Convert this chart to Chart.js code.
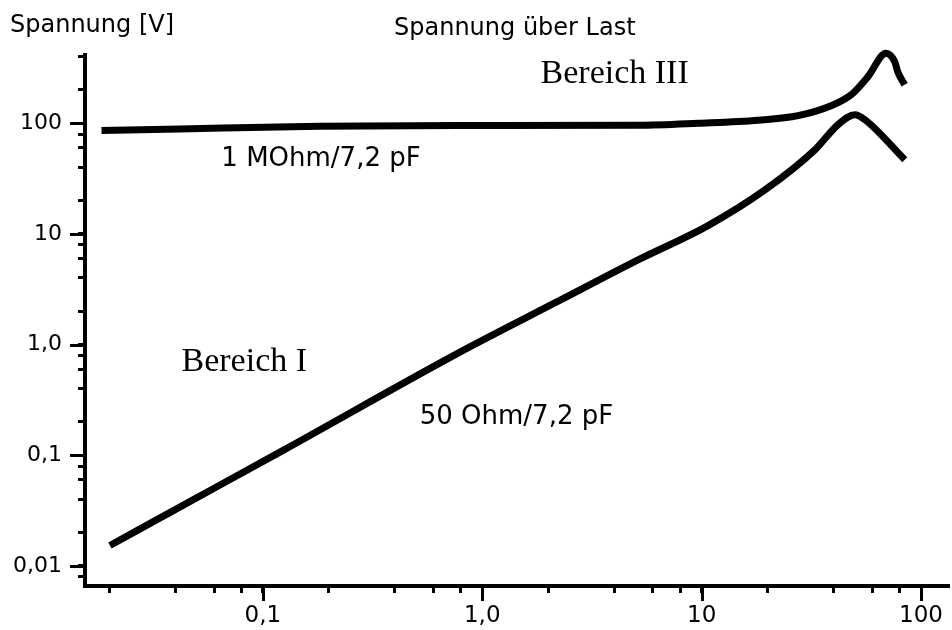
<!DOCTYPE html>
<html><head><meta charset="utf-8">
<script src="https://cdn.jsdelivr.net/npm/chart.js@4.4.1/dist/chart.umd.min.js"></script>
<style>html,body{margin:0;padding:0;background:#fff}canvas{display:block}</style>
</head><body>
<canvas id="c" width="952" height="630"></canvas>
<script>
// ---- data ----
const seriesNames = ['1 MOhm/7,2 pF', '50 Ohm/7,2 pF'];
const freqMOhm = [0.0184, 0.0418, 0.181, 0.784, 5.16, 9.66, 18.1, 27.5, 38.9, 48.0, 57.3, 69.2, 75.9, 78.3, 84.2];
const voltMOhm = [86.0, 88.8, 93.8, 95.5, 96.1, 100.2, 106.7, 117.2, 144, 181, 264, 430, 360, 292, 223];
const freq50 = [0.0201, 0.0418, 0.1255, 0.784, 2.23, 5.16, 10.7, 19.5, 32.9, 41.8, 50.0, 55.5, 84.3];
const volt50 = [0.0153, 0.0340, 0.1126, 0.847, 2.48, 5.86, 11.9, 25.1, 57.8, 97.1, 119.6, 107.8, 46.9];

const xMajorTicks = [0.1, 1, 10, 100];
const xTickLabels = ['0,1', '1,0', '10', '100'];
const xMinorTicks = [0.02, 0.04, 0.06, 0.08, 0.2, 0.4, 0.6, 0.8, 2, 4, 6, 8, 20, 40, 60, 80];
const yMajorTicks = [0.01, 0.1, 1, 10, 100];
const yTickLabels = ['0,01', '0,1', '1,0', '10', '100'];
const yMinorTicks = [0.008, 0.02, 0.04, 0.06, 0.08, 0.2, 0.4, 0.6, 0.8, 2, 4, 6, 8, 20, 40, 60, 80, 200, 400];

const yAxisTitle = 'Spannung [V]';
const chartTitle = 'Spannung über Last';
const regionLabels = ['Bereich III', 'Bereich I'];

// ---- label anchors (data coordinates) ----
const seriesLabelPos = [[0.0647, 40.8], [0.519, 0.1934]];
const regionLabelPos = [[1.844, 231], [0.0426, 0.574]];

const SANS = '"DejaVu Sans", sans-serif';
const SERIF = '"Liberation Serif", "Times New Roman", serif';
const MINOR_LEN = 7, MAJOR_LEN = 13;

const allX = xMinorTicks.concat(xMajorTicks).sort((a, b) => a - b);
const allY = yMinorTicks.concat(yMajorTicks).sort((a, b) => a - b);

const decor = {
  id: 'decor',
  afterDraw(chart) {
    const ctx = chart.ctx, xs = chart.scales.x, ys = chart.scales.y;
    ctx.save();
    ctx.strokeStyle = '#000';
    ctx.lineWidth = 3;
    const ca = chart.chartArea;
    xMajorTicks.forEach(v => {
      const px = Math.round(xs.getPixelForValue(v)) + 0.5;
      ctx.beginPath(); ctx.moveTo(px, ca.bottom + 2); ctx.lineTo(px, ca.bottom + 2 + MAJOR_LEN); ctx.stroke();
    });
    yMajorTicks.forEach(v => {
      const py = Math.round(ys.getPixelForValue(v)) + 0.5;
      ctx.beginPath(); ctx.moveTo(ca.left - 2, py); ctx.lineTo(ca.left - 2 - MAJOR_LEN, py); ctx.stroke();
    });
    ctx.fillStyle = '#000';
    ctx.textAlign = 'left';
    ctx.textBaseline = 'alphabetic';
    ctx.font = '24px ' + SANS;
    ctx.fillText(yAxisTitle, 10, 32);
    ctx.fillText(chartTitle, 394, 35);
    ctx.font = '26px ' + SANS;
    seriesNames.forEach((t, i) => {
      const p = seriesLabelPos[i];
      ctx.fillText(t, xs.getPixelForValue(p[0]), ys.getPixelForValue(p[1]));
    });
    ctx.font = '34px ' + SERIF;
    regionLabels.forEach((t, i) => {
      const p = regionLabelPos[i];
      ctx.fillText(t, xs.getPixelForValue(p[0]), ys.getPixelForValue(p[1]));
    });
    ctx.restore();
  }
};

const toPts = (xa, ya) => xa.map((x, i) => ({x: x, y: ya[i]}));

new Chart(document.getElementById('c'), {
  type: 'line',
  data: {
    datasets: [
      {label: seriesNames[0], data: toPts(freqMOhm, voltMOhm)},
      {label: seriesNames[1], data: toPts(freq50, volt50)}
    ]
  },
  options: {
    responsive: false,
    animation: false,
    devicePixelRatio: 1,
    layout: {padding: {top: 55, left: 0, right: 0, bottom: 0}},
    elements: {
      line: {borderColor: '#000', borderWidth: 7, tension: 0, cubicInterpolationMode: 'monotone', borderCapStyle: 'butt', borderJoinStyle: 'round', fill: false},
      point: {radius: 0, hoverRadius: 0}
    },
    datasets: {line: {clip: false}},
    plugins: {legend: {display: false}, title: {display: false}, tooltip: {enabled: false}},
    scales: {
      x: {
        type: 'logarithmic', position: 'bottom',
        min: 0.01547, max: 135,
        afterBuildTicks: (s) => { s.ticks = allX.map(v => ({value: v})); },
        afterFit: (s) => { s.height = 44; },
        ticks: {
          autoSkip: false, maxRotation: 0, minRotation: 0, padding: 9, color: '#000',
          font: {family: SANS, size: 23},
          callback: (v) => { const i = xMajorTicks.indexOf(v); return i >= 0 ? xTickLabels[i] : ''; }
        },
        grid: {display: true, drawOnChartArea: false, drawTicks: true, tickLength: MINOR_LEN, tickWidth: 3, tickColor: '#000'},
        border: {display: true, color: '#000', width: 4}
      },
      y: {
        type: 'logarithmic', position: 'left',
        min: 0.00659, max: 414,
        afterBuildTicks: (s) => { s.ticks = allY.map(v => ({value: v})); },
        afterFit: (s) => { s.width = 85; },
        ticks: {
          autoSkip: false, padding: 16, color: '#000',
          font: {family: SANS, size: 22},
          callback: (v) => { const i = yMajorTicks.indexOf(v); return i >= 0 ? yTickLabels[i] : ''; }
        },
        grid: {display: true, drawOnChartArea: false, drawTicks: true, tickLength: MINOR_LEN, tickWidth: 3, tickColor: '#000'},
        border: {display: true, color: '#000', width: 4}
      }
    }
  },
  plugins: [decor]
});
</script>
</body></html>
